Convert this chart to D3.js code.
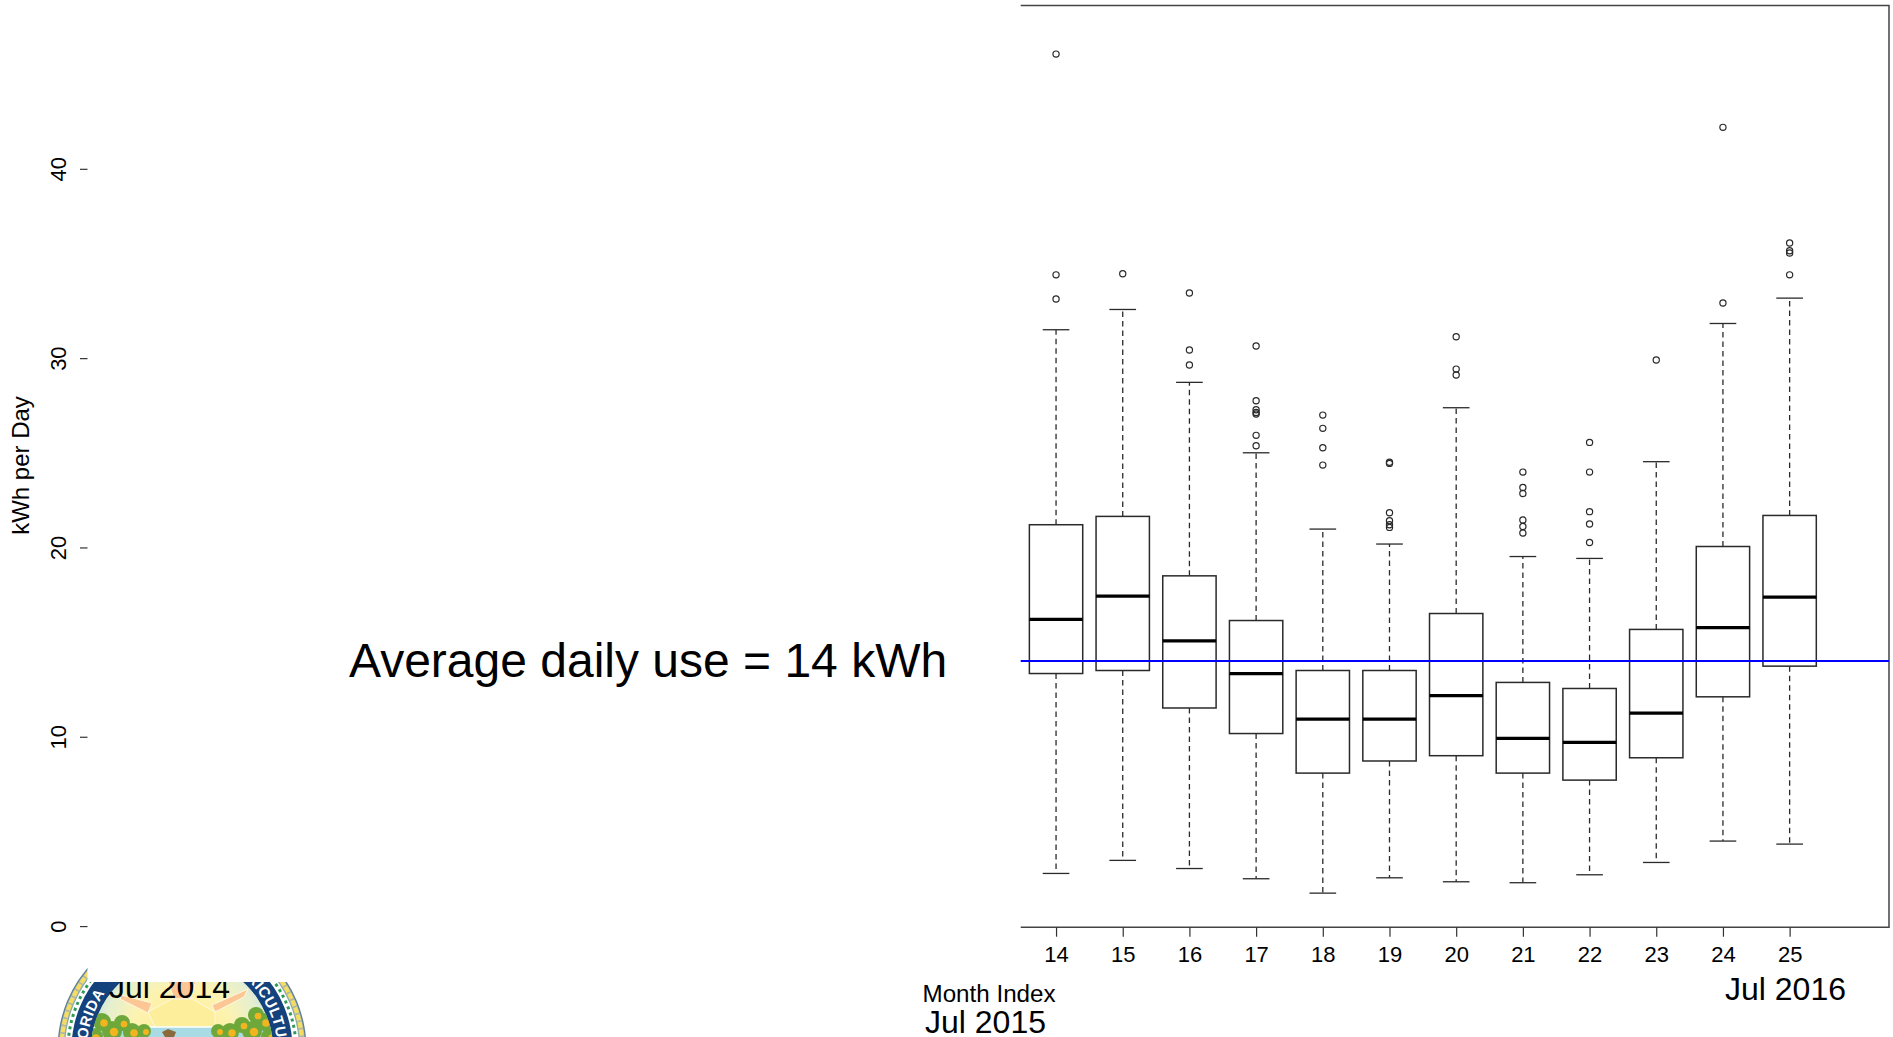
<!DOCTYPE html>
<html>
<head>
<meta charset="utf-8">
<script src="https://d3js.org/d3.v7.min.js"></script>
<style>
  html, body { margin: 0; padding: 0; background: #fff; }
  svg { display: block; }
  text { font-family: "Liberation Sans", Arial, sans-serif; fill: #000; }
</style>
</head>
<body>
<div id="chart"></div>
<script>
var months = [14, 15, 16, 17, 18, 19, 20, 21, 22, 23, 24, 25];
var whiskerLow = [2.78, 3.47, 3.04, 2.50, 1.74, 2.55, 2.34, 2.29, 2.71, 3.36, 4.49, 4.33];
var quart1 = [13.34, 13.50, 11.52, 10.17, 8.08, 8.72, 9.00, 8.08, 7.71, 8.89, 12.11, 13.73];
var medians = [16.20, 17.43, 15.07, 13.34, 10.93, 10.93, 12.17, 9.91, 9.70, 11.25, 15.77, 17.38];
var quart3 = [21.20, 21.64, 18.50, 16.14, 13.50, 13.50, 16.51, 12.87, 12.55, 15.67, 20.05, 21.69];
var whiskerHigh = [31.50, 32.57, 28.72, 25.00, 20.97, 20.18, 27.38, 19.52, 19.42, 24.53, 31.83, 33.17];
var outliers = [
    [46.06, 34.40, 33.12],
    [34.46],
    [33.44, 30.43, 29.64],
    [30.64, 27.75, 27.27, 27.13, 27.05, 25.92, 25.37],
    [26.99, 26.29, 25.27, 24.35],
    [24.50, 24.44, 21.83, 21.41, 21.20, 21.06],
    [31.13, 29.42, 29.11],
    [23.98, 23.17, 22.85, 21.45, 21.11, 20.76],
    [25.55, 23.98, 21.89, 21.24, 20.26],
    [29.90],
    [42.19, 32.91],
    [36.08, 35.67, 35.55, 34.40]
];
var averageUse = 14;
var yTicks = [0, 10, 20, 30, 40];

var boxes = months.map(function(m, i) {
    return { month: m, low: whiskerLow[i], q1: quart1[i], med: medians[i], q3: quart3[i], high: whiskerHigh[i], out: outliers[i] };
});

var svg = d3.select("#chart").append("svg")
    .attr("width", 1893)
    .attr("height", 1037);

var plotLeft = 1020.7, plotRight = 1889, plotTop = 5.5, plotBottom = 927.2;
var x = d3.scaleLinear().domain([13.47, 26.49]).range([plotLeft, plotRight]);
var y = d3.scaleLinear().domain([-0.07, 48.59]).range([927.4, 6.2]);
var halfBox = (x(1) - x(0)) * 0.4;
var halfCap = (x(1) - x(0)) * 0.2;
var ink = "#2a2a2a";

// seal under the Jul 2014 label, only the top of it shows
var seal = svg.append("g").attr("transform", "translate(182,1049)");
var defs = svg.append("defs");
var skyGrad = defs.append("radialGradient").attr("id", "sky")
    .attr("gradientUnits", "userSpaceOnUse")
    .attr("cx", 0).attr("cy", -12).attr("r", 92);
skyGrad.append("stop").attr("offset", "0").attr("stop-color", "#fdec8c");
skyGrad.append("stop").attr("offset", "0.55").attr("stop-color", "#fdf3b0");
skyGrad.append("stop").attr("offset", "0.85").attr("stop-color", "#e6efd0");
skyGrad.append("stop").attr("offset", "1").attr("stop-color", "#c9e4dc");
defs.append("clipPath").attr("id", "inner")
    .append("circle").attr("r", 91);

seal.append("circle").attr("r", 124.5).attr("fill", "#5f7f96");
seal.append("circle").attr("r", 123.2).attr("fill", "#a9b8a8");
seal.append("circle").attr("r", 120.5).attr("fill", "none")
    .attr("stroke", "#f5dc62").attr("stroke-width", 4.2).attr("stroke-dasharray", "6 1.6");
seal.append("circle").attr("r", 118).attr("fill", "#8fa8a8");
seal.append("circle").attr("r", 117).attr("fill", "#fff");
seal.append("circle").attr("r", 114).attr("fill", "none")
    .attr("stroke", "#2f9a55").attr("stroke-width", 3).attr("stroke-dasharray", "3 3.4");
seal.append("circle").attr("r", 110.5).attr("fill", "#14427c");

// arc for the band lettering, runs clockwise from -130deg to 120deg
var bandR = 95;
var a0 = -130 * Math.PI / 180, a1 = 120 * Math.PI / 180;
defs.append("path").attr("id", "band")
    .attr("d", "M" + (bandR * Math.sin(a0)) + "," + (-bandR * Math.cos(a0))
        + " A" + bandR + "," + bandR + " 0 1 1 " + (bandR * Math.sin(a1)) + "," + (-bandR * Math.cos(a1)));
seal.append("text")
    .style("font-size", "15px").style("font-weight", "bold").style("fill", "#fff")
    .style("letter-spacing", "0.5px")
    .append("textPath").attr("href", "#band")
    .attr("startOffset", 56)
    .text("FLORIDA");
seal.append("text")
    .style("font-size", "15px").style("font-weight", "bold").style("fill", "#fff")
    .style("letter-spacing", "0.5px")
    .append("textPath").attr("href", "#band")
    .attr("startOffset", 262)
    .text("AGRICULTURE");

var inner = seal.append("g").attr("clip-path", "url(#inner)");
inner.append("circle").attr("r", 91).attr("fill", "url(#sky)");
var rayShapes = [
    [[-61, -54], [-30, -46], [-34, -36], [-62, -50]],
    [[66, -60], [30, -44], [33, -37], [62, -52]],
    [[-18, -80], [-8, -50], [8, -50], [18, -80]]
];
inner.selectAll(".ray").data(rayShapes).enter().append("polygon")
    .attr("class", "ray")
    .attr("points", function(d) { return d.join(" "); })
    .attr("fill", "#fcc795").attr("stroke", "#fff8e0").attr("stroke-width", 1);
var sunShape = [[-34, -37], [-27, -22], [-31, -10], [31, -10], [33, -22], [33, -37], [10, -50], [-10, -50]];
inner.append("polygon").attr("points", sunShape.join(" "))
    .attr("fill", "#fdee9c").attr("stroke", "#fff8e0").attr("stroke-width", 1);
inner.append("rect").attr("x", -95).attr("y", -22).attr("width", 190).attr("height", 100).attr("fill", "#a9dbe4");
inner.append("line").attr("x1", -95).attr("x2", 95).attr("y1", -22).attr("y2", -22)
    .attr("stroke", "#fff").attr("stroke-width", 1.5);

var bushes = [[-80, -27, 9], [-70, -18, 10], [-60, -26, 8], [-50, -17, 9], [-38, -18, 7], [-88, -12, 9],
    [82, -27, 9], [74, -34, 8], [70, -18, 10], [60, -24, 8], [48, -17, 9], [36, -18, 7], [88, -12, 9]];
inner.selectAll(".bush").data(bushes).enter().append("circle")
    .attr("class", "bush")
    .attr("cx", function(d) { return d[0]; })
    .attr("cy", function(d) { return d[1]; })
    .attr("r", function(d) { return d[2]; })
    .attr("fill", "#6fa83a");
inner.selectAll(".fruit").data(bushes).enter().append("circle")
    .attr("class", "fruit")
    .attr("cx", function(d) { return d[0] + 2; })
    .attr("cy", function(d) { return d[1] + 1; })
    .attr("r", function(d) { return d[2] * 0.42; })
    .attr("fill", "#f2b51f");
inner.append("path").attr("d", "M-20,-17 l6,-3 l8,3 l-2,5 l-9,0 Z").attr("fill", "#8a6a3a");

svg.append("text")
    .attr("x", 109).attr("y", 998)
    .style("font-size", "32px")
    .text("Jul 2014");

// white patch that hides the left part of the plot
svg.append("rect")
    .attr("x", 87.5).attr("y", 0)
    .attr("width", plotLeft - 87.5).attr("height", 982)
    .attr("fill", "#fff");

// frame, the left side is gone
svg.append("path")
    .attr("d", d3.line()([[plotLeft, plotTop], [plotRight, plotTop], [plotRight, plotBottom], [plotLeft, plotBottom]]))
    .attr("fill", "none").attr("stroke", "#444").attr("stroke-width", 1.5);

var xAxis = d3.axisBottom(x).tickValues(months).tickSize(9.5).tickFormat(d3.format("d"));
var xg = svg.append("g").attr("transform", "translate(0," + plotBottom + ")").call(xAxis);
xg.select(".domain").remove();
xg.selectAll("line").attr("stroke", "#333").attr("stroke-width", 1.2);
xg.selectAll("text")
    .attr("y", 34.5).attr("dy", 0)
    .style("font-size", "22px");

var yAxis = d3.axisLeft(y).tickValues(yTicks).tickSize(7.5).tickFormat(d3.format("d"));
var yg = svg.append("g").attr("transform", "translate(87.5,0)").call(yAxis);
yg.select(".domain").remove();
yg.selectAll("line").attr("stroke", "#333").attr("stroke-width", 1.2);
yg.selectAll("text")
    .attr("x", 0).attr("y", -21.5).attr("dy", 0)
    .attr("transform", "rotate(-90)")
    .attr("text-anchor", "middle")
    .style("font-size", "22px");

var box = svg.selectAll(".box")
    .data(boxes)
    .enter().append("g")
    .attr("class", "box");

// whiskers
box.append("line")
    .attr("x1", function(d) { return x(d.month); })
    .attr("x2", function(d) { return x(d.month); })
    .attr("y1", function(d) { return y(d.q3); })
    .attr("y2", function(d) { return y(d.high); })
    .attr("stroke", ink).attr("stroke-width", 1.3).attr("stroke-dasharray", "5.5 4");
box.append("line")
    .attr("x1", function(d) { return x(d.month); })
    .attr("x2", function(d) { return x(d.month); })
    .attr("y1", function(d) { return y(d.q1); })
    .attr("y2", function(d) { return y(d.low); })
    .attr("stroke", ink).attr("stroke-width", 1.3).attr("stroke-dasharray", "5.5 4");
box.append("line")
    .attr("x1", function(d) { return x(d.month) - halfCap; })
    .attr("x2", function(d) { return x(d.month) + halfCap; })
    .attr("y1", function(d) { return y(d.high); })
    .attr("y2", function(d) { return y(d.high); })
    .attr("stroke", ink).attr("stroke-width", 1.3);
box.append("line")
    .attr("x1", function(d) { return x(d.month) - halfCap; })
    .attr("x2", function(d) { return x(d.month) + halfCap; })
    .attr("y1", function(d) { return y(d.low); })
    .attr("y2", function(d) { return y(d.low); })
    .attr("stroke", ink).attr("stroke-width", 1.3);

box.append("rect")
    .attr("x", function(d) { return x(d.month) - halfBox; })
    .attr("y", function(d) { return y(d.q3); })
    .attr("width", halfBox * 2)
    .attr("height", function(d) { return y(d.q1) - y(d.q3); })
    .attr("fill", "#fff").attr("stroke", ink).attr("stroke-width", 1.5);

box.append("line")
    .attr("x1", function(d) { return x(d.month) - halfBox; })
    .attr("x2", function(d) { return x(d.month) + halfBox; })
    .attr("y1", function(d) { return y(d.med); })
    .attr("y2", function(d) { return y(d.med); })
    .attr("stroke", "#000").attr("stroke-width", 3.2);

box.selectAll(".out")
    .data(function(d) { return d.out.map(function(v) { return { month: d.month, value: v }; }); })
    .enter().append("circle")
    .attr("class", "out")
    .attr("cx", function(d) { return x(d.month); })
    .attr("cy", function(d) { return y(d.value); })
    .attr("r", 3.1)
    .attr("fill", "none").attr("stroke", ink).attr("stroke-width", 1.2);

svg.append("line")
    .attr("x1", plotLeft).attr("x2", plotRight)
    .attr("y1", y(averageUse)).attr("y2", y(averageUse))
    .attr("stroke", "#0000ff").attr("stroke-width", 2);

svg.append("text")
    .attr("x", 349).attr("y", 677)
    .style("font-size", "48px")
    .text("Average daily use = 14 kWh");

svg.append("text")
    .attr("transform", "translate(28.5,465.5) rotate(-90)")
    .attr("text-anchor", "middle")
    .style("font-size", "24px")
    .text("kWh per Day");

svg.append("text")
    .attr("x", 922.5).attr("y", 1002)
    .style("font-size", "24.2px")
    .text("Month Index");

svg.append("text")
    .attr("x", 925).attr("y", 1032.5)
    .style("font-size", "32px")
    .text("Jul 2015");

svg.append("text")
    .attr("x", 1725).attr("y", 1000)
    .style("font-size", "32px")
    .text("Jul 2016");
</script>
</body>
</html>
